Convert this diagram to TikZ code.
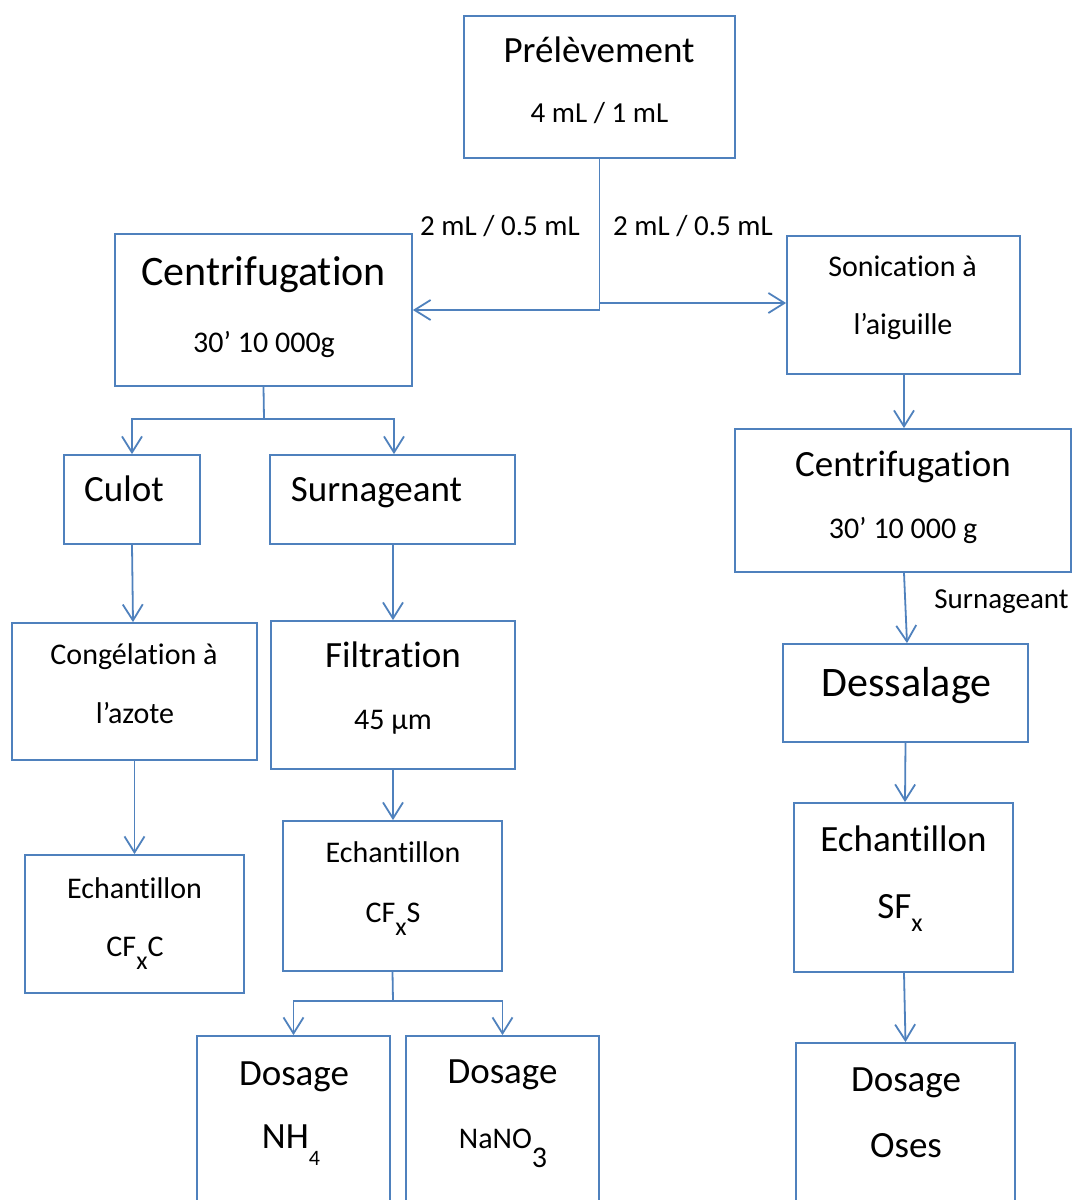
\documentclass[tikz,border=0pt]{standalone}
\usepackage{fontspec}
\setmainfont{Carlito}[Ligatures={NoCommon,NoRare,NoContextual},Contextuals={NoAlternate}]
\usetikzlibrary{arrows.meta}
\definecolor{boxblue}{RGB}{79,129,189}
\newcommand{\fXL}{\fontsize{42}{50}\selectfont}
\newcommand{\fL}{\fontsize{37}{44}\selectfont}
\newcommand{\fM}{\fontsize{30}{36}\selectfont}
\newcommand{\fS}{\fontsize{29}{35}\selectfont}
\newcommand{\subx}[1]{\raisebox{-13pt}{\fontsize{26}{26}\selectfont #1}}
\tikzset{
  box/.style={draw=boxblue, line width=1.8pt, rectangle, inner sep=0pt},
  txt/.style={anchor=base, inner sep=0pt, text=black},
  link/.style={draw=boxblue, line width=1.8pt},
  arr/.style={draw=boxblue, line width=1.8pt, -{Straight Barb[length=16pt,width=20pt,line width=1.8pt]}},
}
\begin{document}
\begin{tikzpicture}[x=1pt,y=-1pt]
\useasboundingbox (0,0) rectangle (1073,1200);
\clip (0,0) rectangle (1073,1200);
% boxes
\node[box, minimum width=271pt, minimum height=142pt] (prel) at (599.5,87) {};
\node[box, minimum width=297pt, minimum height=152pt] (centL) at (263.5,310) {};
\node[box, minimum width=233pt, minimum height=138pt] (sonic) at (903.5,305) {};
\node[box, minimum width=336pt, minimum height=143pt] (centR) at (903,500.5) {};
\node[box, minimum width=245pt, minimum height=98pt] (dess) at (905.5,693) {};
\node[box, minimum width=219pt, minimum height=169pt] (echR) at (903.5,887.5) {};
\node[box, minimum width=219pt, minimum height=197pt] (oses) at (905.5,1141.5) {};
\node[box, minimum width=136pt, minimum height=89pt] (culot) at (132,499.5) {};
\node[box, minimum width=245pt, minimum height=89pt] (surn) at (392.5,499.5) {};
\node[box, minimum width=245pt, minimum height=137pt] (cong) at (134.5,691.5) {};
\node[box, minimum width=219pt, minimum height=138pt] (echC) at (134.5,924) {};
\node[box, minimum width=244pt, minimum height=148pt] (filt) at (393,695) {};
\node[box, minimum width=219pt, minimum height=150pt] (echS) at (392.5,896) {};
\node[box, minimum width=193pt, minimum height=204pt] (nh) at (293.5,1138) {};
\node[box, minimum width=193pt, minimum height=204pt] (nano) at (502.5,1138) {};
% texts
\node[txt] (tprel1) at (599,62) {\fL Prélèvement};
\node[txt] (tprel2) at (599.5,122) {\fS 4 mL / 1 mL};
\node[txt] (tlab1) at (500,235) {\fS 2 mL / 0.5 mL};
\node[txt] (tlab2) at (693,235) {\fS 2 mL / 0.5 mL};
\node[txt] (tcl1) at (263.5,285) {\fXL Centrifugation};
\node[txt] (tcl2) at (264,352) {\fM 30’ 10 000g};
\node[txt] (tso1) at (902.5,276) {\fM Sonication à};
\node[txt] (tso2) at (903,334) {\fM l’aiguille};
\node[txt] (tcr1) at (903,476) {\fL Centrifugation};
\node[txt] (tcr2) at (903,538) {\fM 30’ 10 000 g};
\node[txt] (tsurlab) at (1001.5,608) {\fS Surnageant};
\node[txt] (tdess) at (906.5,696) {\fXL Dessalage};
\node[txt] (techR1) at (903.5,851) {\fL Echantillon};
\node[txt] (techR2) at (900,918) {\fL SF\subx{x}};
\node[txt] (toses1) at (906,1091) {\fL Dosage};
\node[txt] (toses2) at (906,1157) {\fL Oses};
\node[txt] (tculot) at (124,501) {\fL Culot};
\node[txt] (tsurn) at (376.5,501) {\fL Surnageant};
\node[txt] (tcong1) at (134,664) {\fM Congélation à};
\node[txt] (tcong2) at (135,723) {\fM l’azote};
\node[txt] (techC1) at (134.5,898) {\fM Echantillon};
\node[txt] (techC2) at (135,956) {\fM CF\subx{x}C};
\node[txt] (tfilt1) at (393,667) {\fL Filtration};
\node[txt] (tfilt2) at (393,729) {\fM 45 µm};
\node[txt] (techS1) at (393,862) {\fM Echantillon};
\node[txt] (techS2) at (393,922) {\fM CF\subx{x}S};
\node[txt] (tnh1) at (294,1085) {\fL Dosage};
\node[txt] (tnh2) at (291,1148) {\fL NH\raisebox{-17pt}{\fontsize{22}{22}\selectfont 4}};
\node[txt] (tna1) at (502.5,1083) {\fL Dosage};
\node[txt] (tna2) at (503,1148) {\fM NaNO\raisebox{-19pt}{\fM 3}};
% connectors
\coordinate (j1) at (600,303);
\draw[arr] (prel.south) |- (centL.east);
\draw[arr] (j1) -- (j1 -| sonic.west);
\coordinate (jL) at (264,419);
\draw[link] (centL.south) -- (jL);
\draw[arr] (jL) -| (culot.north);
\draw[arr] (jL) -| ([xshift=1.5pt]surn.north);
\draw[arr] (culot.south) -- ([xshift=-1.5pt]cong.north);
\draw[arr] (cong.south) -- (echC.north);
\draw[arr] ([xshift=0.5pt]surn.south) -- (filt.north);
\draw[arr] (filt.south) -- ([xshift=0.5pt]echS.north);
\coordinate (jS) at (393,1001);
\draw[link] (echS.south) -- (jS);
\draw[arr] (jS) -| (nh.north);
\draw[arr] (jS) -| (nano.north);
\draw[arr] ([xshift=0.5pt]sonic.south) -- ([xshift=0.5pt]sonic.south |- centR.north);
\draw[arr] ([xshift=1pt]centR.south) -- ([xshift=1.5pt]dess.north);
\draw[arr] (dess.south) -- ([xshift=1.5pt]echR.north);
\draw[arr] ([xshift=0.5pt]echR.south) -- (oses.north);
\end{tikzpicture}
\end{document}
